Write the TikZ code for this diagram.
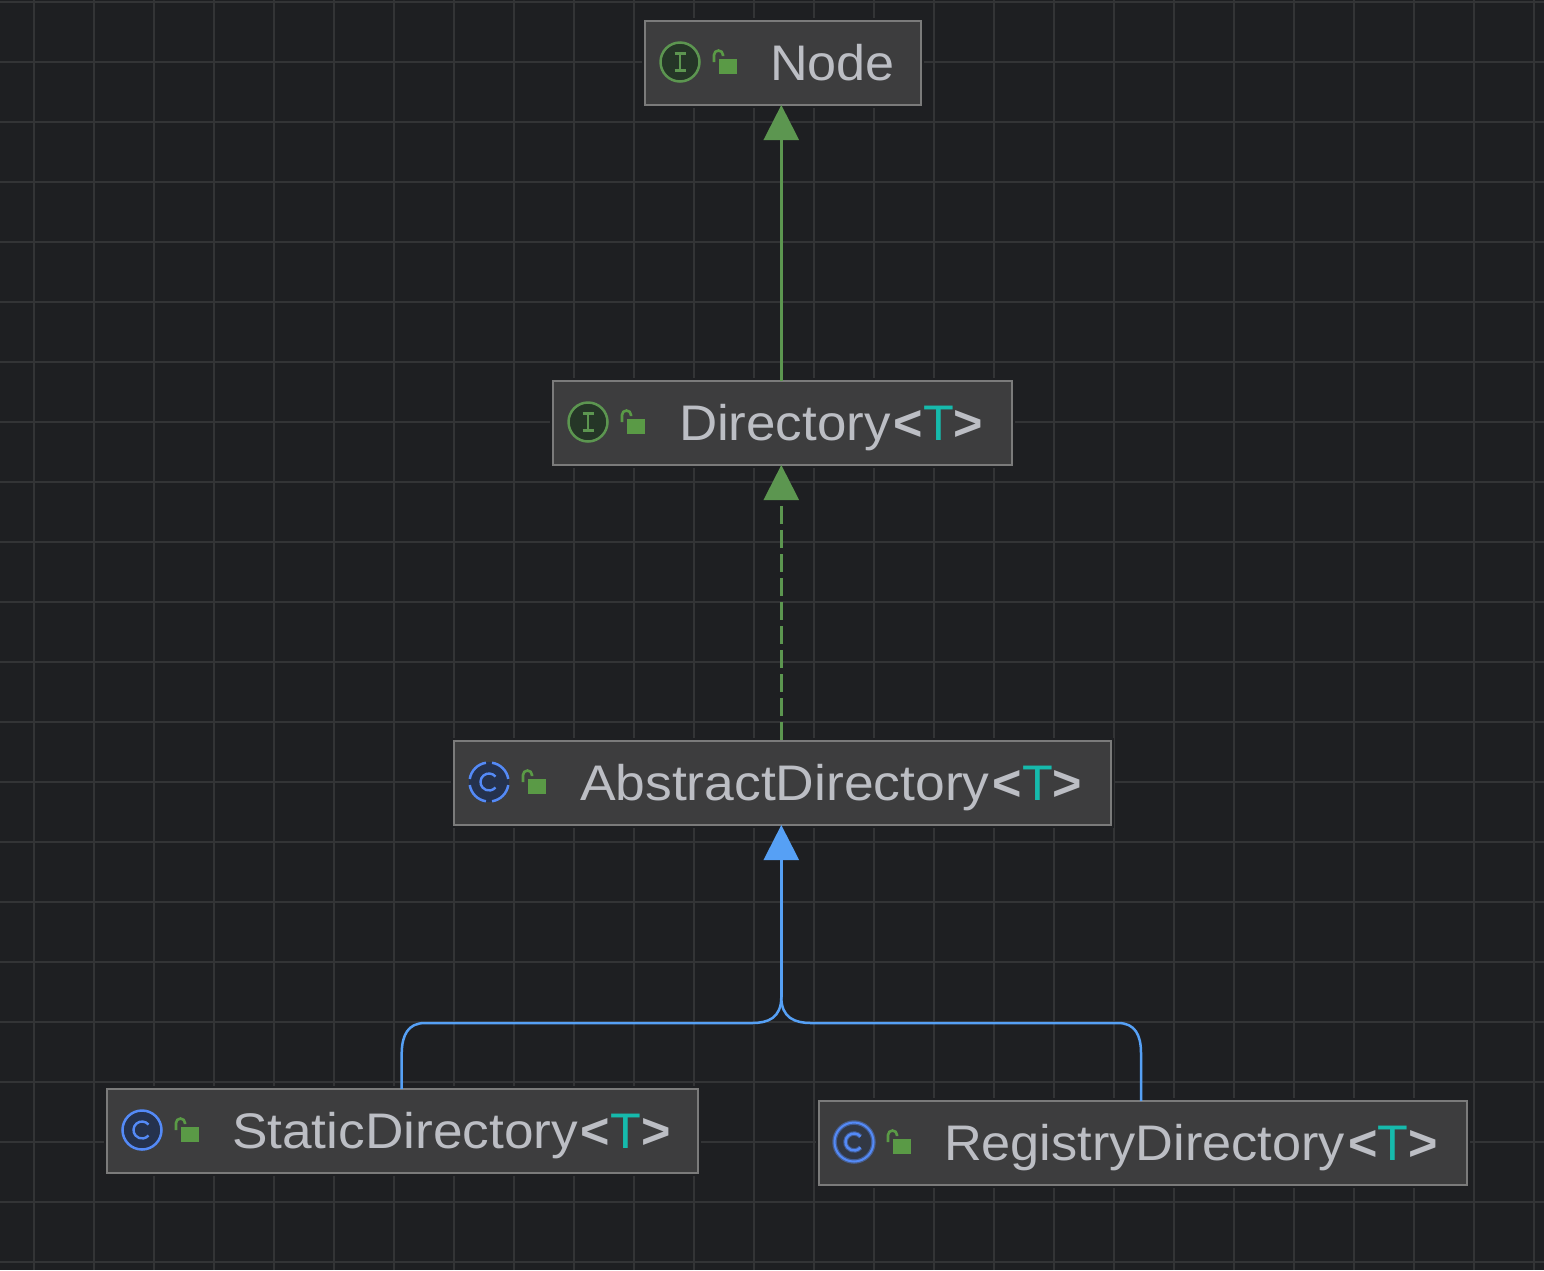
\documentclass[tikz,border=0pt]{standalone}
\usepackage{fontspec}
\setmainfont[FakeStretch=1.06]{Liberation Sans}
\usetikzlibrary{arrows.meta}
\definecolor{bgc}{HTML}{1E1F22}
\definecolor{gridc}{HTML}{333436}
\definecolor{boxfill}{HTML}{3D3D3E}
\definecolor{boxline}{HTML}{7B7B7B}
\definecolor{txt}{HTML}{BCBEC4}
\definecolor{teal}{HTML}{16BAAC}
\definecolor{grn}{HTML}{5C9650}
\definecolor{lockg}{HTML}{5A9A46}
\definecolor{blu}{HTML}{56A0F5}
\definecolor{icblue}{HTML}{548AF7}
\definecolor{icbfill}{HTML}{25324D}
\definecolor{icgfill}{HTML}{253627}
\newcommand{\gen}{\kern3pt\scalebox{0.95}[1]{{\bfseries\textless}\textcolor{teal}{T}{\bfseries\textgreater}}}
\newcommand{\nm}[2]{\scalebox{#1}[1]{#2}}
\tikzset{
  x=1pt,y=-1pt,
  classbox/.style={draw=boxline,fill=boxfill,line width=2.3pt,inner sep=0pt,outer sep=0pt,minimum height=84pt,
    preaction={draw=bgc,line width=6.5pt}},
  labeltext/.style={anchor=base west,inner sep=0pt,outer sep=0pt,text=txt,font=\fontsize{50}{50}\selectfont},
  gridline/.style={draw=gridc,line width=1.7pt},
  greenedge/.style={draw=grn,line width=2.5pt,-{Triangle[length=35pt,width=35pt,fill=grn]}},
  greendash/.style={greenedge,dash pattern=on 18pt off 6pt,dash phase=23pt},
  blueedge/.style={draw=blu,line width=2.5pt},
  bluearrow/.style={blueedge,-{Triangle[length=35pt,width=35pt,fill=blu]}},
  lockicon/.pic={
    \fill[lockg] (0,-3) rectangle (18,12);
    \draw[lockg,line width=2.6pt] (-5,0) -- (-5,-7) arc[start angle=180,end angle=0,radius=4.5pt] -- (4,-6);
  },
  ifaceicon/.pic={
    \draw[grn,line width=2.5pt,fill=icgfill] (0,0) circle[radius=19.5pt];
    \draw[grn,line width=2.4pt] (-5.5,-8.5) -- (5.5,-8.5) (0,-8.5) -- (0,8.5) (-5.5,8.5) -- (5.5,8.5);
  },
  carc/.pic={
    \draw[icblue,line width=2.4pt] (40:8.5pt) arc[start angle=40,end angle=320,radius=8.5pt];
  },
  classicon/.pic={
    \draw[icblue,line width=2.5pt,fill=icbfill] (0,0) circle[radius=19.5pt];
    \pic {carc};
  },
  absicon/.pic={
    \fill[icbfill] (0,0) circle[radius=20pt];
    \foreach \a in {0,90,180,270}{
      \draw[icblue,line width=2.5pt] (\a+9:19.5pt) arc[start angle=\a+9,end angle=\a+81,radius=19.5pt];
    }
    \pic {carc};
  },
  softicon/.pic={
    \draw[icblue,opacity=.45,line width=4.5pt,fill=icbfill] (0,0) circle[radius=19.5pt];
    \draw[icblue,line width=2pt] (0,0) circle[radius=19.5pt];
    \draw[icblue,opacity=.45,line width=4.5pt] (40:8.5pt) arc[start angle=40,end angle=320,radius=8.5pt];
    \pic {carc};
  },
}
\begin{document}
\begin{tikzpicture}
\useasboundingbox (0,0) rectangle (1544,1270);
\fill[bgc] (0,0) rectangle (1544,1270);
\foreach \i in {0,...,25}{ \draw[gridline] ({34+60*\i},0) -- ({34+60*\i},1270); }
\foreach \j in {0,...,21}{ \draw[gridline] (0,{2+60*\j}) -- (1544,{2+60*\j}); }

\node[classbox,minimum width=276pt] (node) at (783,63) {};
\node[classbox,minimum width=459pt] (directory) at (782.5,423) {};
\node[classbox,minimum width=657pt] (abstract) at (782.5,783) {};
\node[classbox,minimum width=591pt] (static) at (402.5,1131) {};
\node[classbox,minimum width=648pt] (registry) at (1143,1143) {};

\coordinate (spine) at (781.3,0);
\coordinate (leftx) at (401.7,0);
\coordinate (rightx) at (1141,0);
\coordinate (junction) at (781.3,997);

\draw[greenedge] (directory.north -| spine) -- (node.south -| spine);
\draw[greendash] (abstract.north -| spine) -- (directory.south -| spine);
\draw[bluearrow] (junction) -- (abstract.south -| spine);
\draw[blueedge] (static.north -| leftx) -- (401.7,1053) .. controls (402,1035) and (408,1023) .. (425,1023)
  -- (752,1023) .. controls (768,1023) and (781.3,1018) .. (junction);
\draw[blueedge] (registry.north -| rightx) -- (1141,1053) .. controls (1141,1035) and (1135,1023) .. (1118,1023)
  -- (811,1023) .. controls (795,1023) and (781.3,1018) .. (junction);

\pic at (680,62) {ifaceicon};
\pic at (719,62) {lockicon};
\pic at (588,422) {ifaceicon};
\pic at (627,422) {lockicon};
\pic at (489,782) {absicon};
\pic at (528,782) {lockicon};
\pic at (142,1130) {classicon};
\pic at (181,1130) {lockicon};
\pic at (854,1142) {softicon};
\pic at (893,1142) {lockicon};

\node[labeltext] (nodetext) at (770,80) {\nm{0.984}{Node}};
\node[labeltext] (directorytext) at (679,440) {\nm{0.998}{Directory}\gen};
\node[labeltext] (abstracttext) at (580,800) {\nm{1.008}{AbstractDirectory}\gen};
\node[labeltext] (statictext) at (232,1148) {\nm{1.004}{StaticDirectory}\gen};
\node[labeltext] (registrytext) at (944,1160) {\nm{0.987}{RegistryDirectory}\gen};
\end{tikzpicture}
\end{document}
